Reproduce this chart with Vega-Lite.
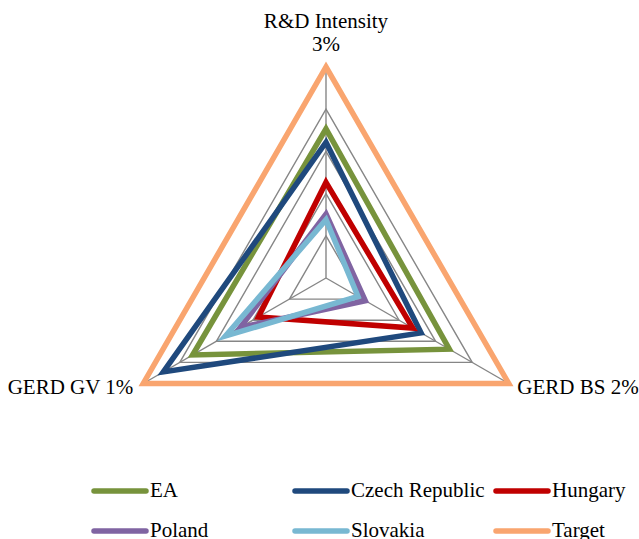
{
  "$schema": "https://vega.github.io/schema/vega-lite/v6.json",
  "width": 639,
  "height": 539,
  "autosize": "none",
  "padding": 0,
  "background": "white",
  "config": {"view": {"stroke": null}, "font": "Liberation Serif"},
  "datasets": {
    "rd": [
      {"series": "EA", "axis": "R&D Intensity", "value": 2.12},
      {"series": "EA", "axis": "GERD BS", "value": 1.35},
      {"series": "EA", "axis": "GERD GV", "value": 0.73},
      {"series": "Czech Republic", "axis": "R&D Intensity", "value": 1.93},
      {"series": "Czech Republic", "axis": "GERD BS", "value": 1.04},
      {"series": "Czech Republic", "axis": "GERD GV", "value": 0.89},
      {"series": "Hungary", "axis": "R&D Intensity", "value": 1.36},
      {"series": "Hungary", "axis": "GERD BS", "value": 0.95},
      {"series": "Hungary", "axis": "GERD GV", "value": 0.37},
      {"series": "Poland", "axis": "R&D Intensity", "value": 0.91},
      {"series": "Poland", "axis": "GERD BS", "value": 0.43},
      {"series": "Poland", "axis": "GERD GV", "value": 0.47},
      {"series": "Slovakia", "axis": "R&D Intensity", "value": 0.83},
      {"series": "Slovakia", "axis": "GERD BS", "value": 0.35},
      {"series": "Slovakia", "axis": "GERD GV", "value": 0.55},
      {"series": "Target", "axis": "R&D Intensity", "value": 3},
      {"series": "Target", "axis": "GERD BS", "value": 2},
      {"series": "Target", "axis": "GERD GV", "value": 1}
    ],
    "axes": [
      {"axis": "R&D Intensity", "label": "R&D Intensity\n3%", "idx": 0, "target": 3},
      {"axis": "GERD BS", "label": "GERD BS 2%", "idx": 1, "target": 2},
      {"axis": "GERD GV", "label": "GERD GV 1%", "idx": 2, "target": 1}
    ],
    "grid": [
      {"level": 0.2, "idx": 0}, {"level": 0.2, "idx": 1}, {"level": 0.2, "idx": 2},
      {"level": 0.4, "idx": 0}, {"level": 0.4, "idx": 1}, {"level": 0.4, "idx": 2},
      {"level": 0.6, "idx": 0}, {"level": 0.6, "idx": 1}, {"level": 0.6, "idx": 2},
      {"level": 0.8, "idx": 0}, {"level": 0.8, "idx": 1}, {"level": 0.8, "idx": 2},
      {"level": 1.0, "idx": 0}, {"level": 1.0, "idx": 1}, {"level": 1.0, "idx": 2}
    ]
  },
  "resolve": {"scale": {"x": "shared", "y": "shared"}},
  "layer": [
    {
      "data": {"name": "grid"},
      "transform": [
        {"calculate": "(90 - 120 * datum.idx) * PI / 180", "as": "theta"},
        {"calculate": "datum.level * cos(datum.theta)", "as": "x"},
        {"calculate": "datum.level * sin(datum.theta)", "as": "y"}
      ],
      "mark": {"type": "line", "interpolate": "linear-closed", "color": "#868686", "strokeWidth": 1.4},
      "encoding": {
        "x": {"field": "x", "type": "quantitative", "scale": {"domain": [-1.545, 1.4834], "nice": false, "zero": false}, "axis": null},
        "y": {"field": "y", "type": "quantitative", "scale": {"domain": [-1.237, 1.3175], "nice": false, "zero": false}, "axis": null},
        "detail": {"field": "level", "type": "nominal"},
        "order": {"field": "idx", "type": "quantitative"}
      }
    },
    {
      "data": {"name": "axes"},
      "transform": [
        {"calculate": "(90 - 120 * datum.idx) * PI / 180", "as": "theta"},
        {"calculate": "0", "as": "x0"},
        {"calculate": "0", "as": "y0"},
        {"calculate": "cos(datum.theta)", "as": "x"},
        {"calculate": "sin(datum.theta)", "as": "y"}
      ],
      "mark": {"type": "rule", "color": "#868686", "strokeWidth": 1.4},
      "encoding": {
        "x": {"field": "x0", "type": "quantitative"},
        "y": {"field": "y0", "type": "quantitative"},
        "x2": {"field": "x"},
        "y2": {"field": "y"}
      }
    },
    {
      "data": {"name": "rd"},
      "transform": [
        {"lookup": "axis", "from": {"data": {"name": "axes"}, "key": "axis", "fields": ["idx", "target"]}},
        {"calculate": "datum.value / datum.target", "as": "r"},
        {"calculate": "(90 - 120 * datum.idx) * PI / 180", "as": "theta"},
        {"calculate": "datum.r * cos(datum.theta)", "as": "x"},
        {"calculate": "datum.r * sin(datum.theta)", "as": "y"}
      ],
      "mark": {"type": "line", "interpolate": "linear-closed", "strokeWidth": 5.5, "strokeJoin": "miter"},
      "encoding": {
        "x": {"field": "x", "type": "quantitative"},
        "y": {"field": "y", "type": "quantitative"},
        "order": {"field": "idx", "type": "quantitative"},
        "color": {
          "field": "series",
          "type": "nominal",
          "scale": {
            "domain": ["EA", "Czech Republic", "Hungary", "Poland", "Slovakia", "Target"],
            "range": ["#77933C", "#1F497D", "#C00000", "#8064A2", "#78B8D2", "#F9A56F"]
          },
          "legend": {
            "title": null,
            "orient": "none",
            "legendX": 91,
            "legendY": 462,
            "direction": "horizontal",
            "columns": 3,
            "gridAlign": "all",
            "symbolType": "stroke",
            "symbolSize": 2704,
            "symbolStrokeWidth": 5.5,
            "labelFont": "Liberation Serif",
            "labelFontSize": 21,
            "labelColor": "black",
            "labelOffset": 1,
            "labelLimit": 0,
            "columnPadding": 0,
            "rowPadding": -18.5,
            "encode": {"symbols": {"update": {"strokeCap": {"value": "round"}}}}
          }
        }
      }
    },
    {
      "data": {"name": "axes"},
      "transform": [
        {"filter": "datum.idx == 0"},
        {"calculate": "(90 - 120 * datum.idx) * PI / 180", "as": "theta"},
        {"calculate": "cos(datum.theta)", "as": "x"},
        {"calculate": "sin(datum.theta)", "as": "y"}
      ],
      "mark": {"type": "text", "align": "center", "baseline": "alphabetic", "dy": -38.7, "lineBreak": "\n", "lineHeight": 22.4, "fontSize": 21, "font": "Liberation Serif", "color": "black"},
      "encoding": {
        "x": {"field": "x", "type": "quantitative"},
        "y": {"field": "y", "type": "quantitative"},
        "text": {"field": "label"}
      }
    },
    {
      "data": {"name": "axes"},
      "transform": [
        {"filter": "datum.idx == 1"},
        {"calculate": "(90 - 120 * datum.idx) * PI / 180", "as": "theta"},
        {"calculate": "cos(datum.theta)", "as": "x"},
        {"calculate": "sin(datum.theta)", "as": "y"}
      ],
      "mark": {"type": "text", "align": "left", "baseline": "alphabetic", "dx": 8.6, "dy": 10.5, "fontSize": 21, "font": "Liberation Serif", "color": "black"},
      "encoding": {
        "x": {"field": "x", "type": "quantitative"},
        "y": {"field": "y", "type": "quantitative"},
        "text": {"field": "label"}
      }
    },
    {
      "data": {"name": "axes"},
      "transform": [
        {"filter": "datum.idx == 2"},
        {"calculate": "(90 - 120 * datum.idx) * PI / 180", "as": "theta"},
        {"calculate": "cos(datum.theta)", "as": "x"},
        {"calculate": "sin(datum.theta)", "as": "y"}
      ],
      "mark": {"type": "text", "align": "right", "baseline": "alphabetic", "dx": -10, "dy": 10.5, "fontSize": 21, "font": "Liberation Serif", "color": "black"},
      "encoding": {
        "x": {"field": "x", "type": "quantitative"},
        "y": {"field": "y", "type": "quantitative"},
        "text": {"field": "label"}
      }
    }
  ]
}
